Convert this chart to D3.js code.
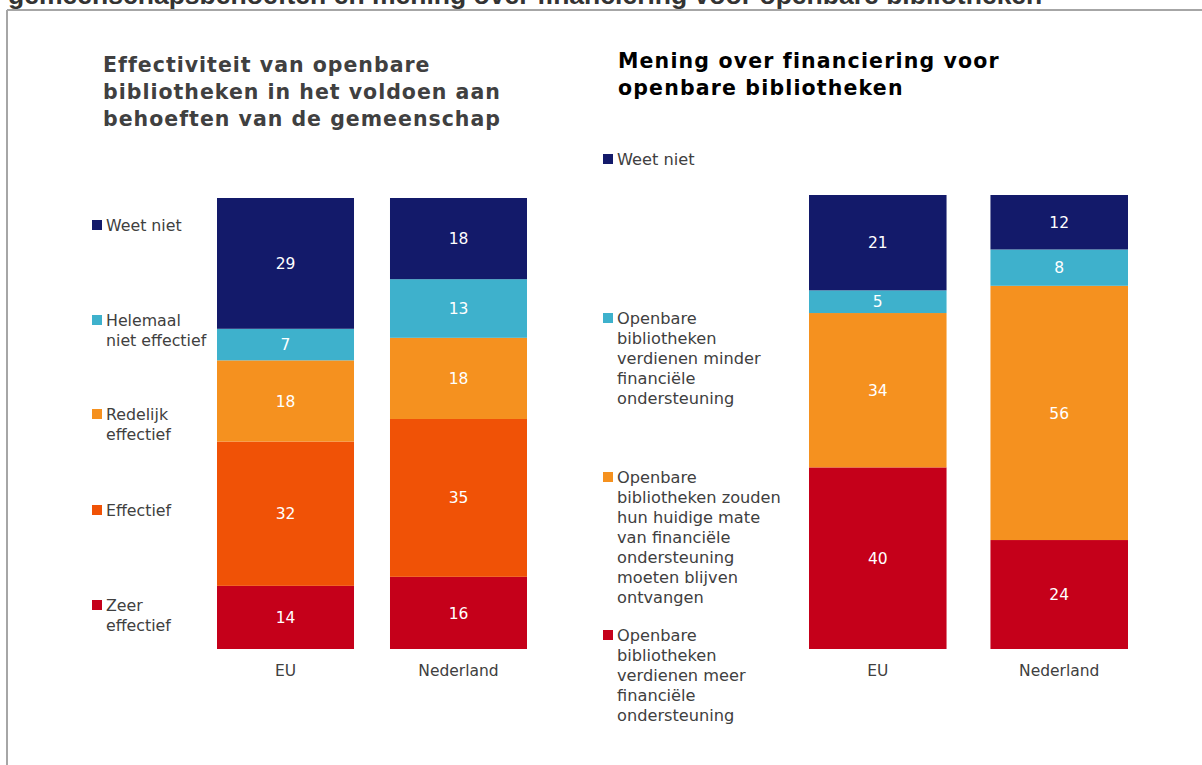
<!DOCTYPE html>
<html>
<head>
<meta charset="utf-8">
<script src="https://cdn.jsdelivr.net/npm/d3@7"></script>
<style>
  html, body { margin: 0; padding: 0; background: #fff; }
  svg { display: block; }
</style>
</head>
<body>
<svg id="chart" width="1202" height="765"></svg>
<script>
// ---------- data ----------
const pageTitle = "gemeenschapsbehoeften en mening over financiering voor openbare bibliotheken";

const leftTitle = ["Effectiviteit van openbare", "bibliotheken in het voldoen aan", "behoeften van de gemeenschap"];
const leftCategories = ["EU", "Nederland"];
// bottom -> top stacking order
const leftSeries = ["Zeer\neffectief", "Effectief", "Redelijk\neffectief", "Helemaal\nniet effectief", "Weet niet"];
const leftEU = [14, 32, 18, 7, 29];
const leftNL = [16, 35, 18, 13, 18];

const rightTitle = ["Mening over financiering voor", "openbare bibliotheken"];
const rightCategories = ["EU", "Nederland"];
const rightSeries = [
  "Openbare\nbibliotheken\nverdienen meer\nfinanciële\nondersteuning",
  "Openbare\nbibliotheken zouden\nhun huidige mate\nvan financiële\nondersteuning\nmoeten blijven\nontvangen",
  "Openbare\nbibliotheken\nverdienen minder\nfinanciële\nondersteuning",
  "Weet niet"
];
const rightEU = [40, 34, 5, 21];
const rightNL = [24, 56, 8, 12];

const leftColors = ["#C5001A", "#F05206", "#F5911F", "#3EB1CC", "#131A6A"];
const rightColors = ["#C5001A", "#F5911F", "#3EB1CC", "#131A6A"];

// ---------- drawing ----------
const svg = d3.select("#chart");
const FONT = "'DejaVu Sans', Verdana, sans-serif";

function fitWidth(textSel, target) {
  const node = textSel.node();
  const fs = parseFloat(textSel.attr("font-size"));
  const w = node.getComputedTextLength();
  textSel.attr("font-size", (fs * target / w).toFixed(2));
}
function spacingFor(textSel, target) {
  const node = textSel.node();
  const w = node.getComputedTextLength();
  const n = textSel.text().length;
  return (target - w) / n;
}

// frame
svg.append("line").attr("x1", 7).attr("x2", 1202).attr("y1", 10).attr("y2", 10)
  .attr("stroke", "#a6a6a6").attr("stroke-width", 2);
svg.append("line").attr("x1", 7).attr("x2", 7).attr("y1", 10).attr("y2", 765)
  .attr("stroke", "#a6a6a6").attr("stroke-width", 2);

// cut-off page title (cut by the top edge, as in the source)
const pt = svg.append("text").attr("x", 8).attr("y", 4)
  .attr("font-family", "'Liberation Sans', Arial, sans-serif").attr("font-weight", "bold")
  .attr("font-size", 20).attr("fill", "#333").text(pageTitle);
fitWidth(pt, 1035);

function drawChart(cfg) {
  const g = svg.append("g");
  // title
  const titles = cfg.title.map((line, i) => g.append("text").attr("x", cfg.titleX).attr("y", cfg.titleY + i * 27)
      .attr("font-family", FONT).attr("font-weight", "bold").attr("font-size", cfg.titleSize)
      .attr("fill", cfg.titleColor).text(line));
  const ls = spacingFor(titles[cfg.fitLine], cfg.fitWidth);
  titles.forEach(t => t.attr("letter-spacing", ls.toFixed(2)));

  const x = d3.scaleBand().domain(cfg.categories).range(cfg.xRange).paddingInner(cfg.pad).paddingOuter(0);
  const y = d3.scaleLinear().domain([0, 100]).range([cfg.bottom, cfg.top]);

  const table = cfg.categories.map((c, ci) => {
    const row = { cat: c };
    cfg.series.forEach((s, si) => { row[s] = cfg.values[ci][si]; });
    return row;
  });
  const stack = d3.stack().keys(cfg.series)(table);

  const layers = g.selectAll(".layer").data(stack).join("g")
    .attr("fill", (d, i) => cfg.colors[i]);
  layers.selectAll("rect").data(d => d).join("rect")
    .attr("x", d => x(d.data.cat))
    .attr("width", x.bandwidth())
    .attr("y", d => y(d[1]))
    .attr("height", d => y(d[0]) - y(d[1]));
  layers.selectAll("text").data(d => d).join("text")
    .attr("x", d => x(d.data.cat) + x.bandwidth() / 2)
    .attr("y", d => (y(d[0]) + y(d[1])) / 2)
    .attr("dy", "0.36em")
    .attr("text-anchor", "middle")
    .attr("font-family", FONT).attr("font-size", 15.5)
    .attr("fill", "#fff")
    .text(d => d[1] - d[0]);

  // category axis labels
  const axis = d3.axisBottom(x).tickSize(0).tickPadding(0);
  const ax = g.append("g").attr("transform", `translate(0,${cfg.bottom + 15})`).call(axis);
  ax.select(".domain").remove();
  ax.selectAll("text").attr("font-family", FONT).attr("font-size", 15.5).attr("fill", "#404040")
    .attr("dy", "0.36em").attr("y", 6);

  // legend
  cfg.series.forEach((s, i) => {
    const yy = cfg.legendY[i];
    g.append("rect").attr("x", cfg.legendX).attr("y", yy - 5).attr("width", 10).attr("height", 10)
      .attr("fill", cfg.colors[i]);
    const t = g.append("text").attr("x", cfg.legendX + 14).attr("y", yy)
      .attr("font-family", FONT).attr("font-size", cfg.legendSize).attr("fill", "#404040");
    s.split("\n").forEach((line, li) => {
      t.append("tspan").attr("x", cfg.legendX + 14).attr("y", yy + li * 20).attr("dy", "0.36em").text(line);
    });
  });
}

drawChart({
  title: leftTitle, titleX: 103, titleY: 72, titleColor: "#404040", titleSize: 20.5, fitLine: 1, fitWidth: 398,
  categories: leftCategories, series: leftSeries, values: [leftEU, leftNL], colors: leftColors,
  xRange: [217, 527], pad: 0.208, bottom: 649, top: 198,
  legendX: 92, legendY: [605, 510, 414, 320, 225], legendSize: 15.8
});

drawChart({
  title: rightTitle, titleX: 618, titleY: 68, titleColor: "#000", titleSize: 20.5, fitLine: 0, fitWidth: 381,
  categories: rightCategories, series: rightSeries, values: [rightEU, rightNL], colors: rightColors,
  xRange: [809, 1128], pad: 0.242, bottom: 649, top: 195,
  legendX: 603, legendY: [635, 477, 318, 159], legendSize: 16.2
});
</script>
</body>
</html>
